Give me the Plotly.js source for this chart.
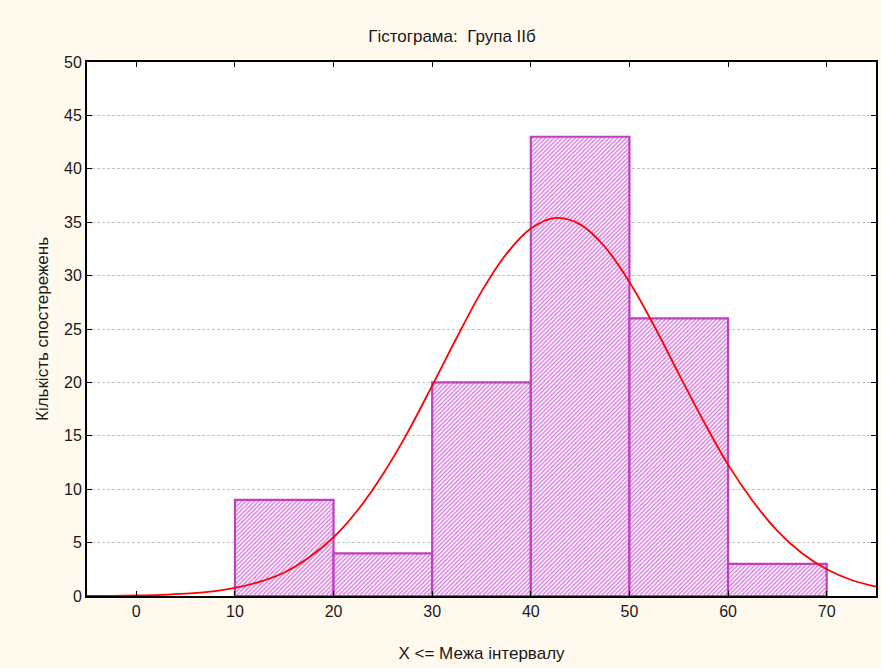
<!DOCTYPE html>
<html>
<head>
<meta charset="utf-8">
<script src="https://cdn.plot.ly/plotly-3.0.1.min.js"></script>
<style>html,body{margin:0;padding:0;background:#FFF9EE;}#chart{width:881px;height:668px;}</style>
</head>
<body>
<div id="chart"></div>
<script>
// Histogram bins (upper bounds of intervals) and counts
const binCenters = [15, 25, 35, 45, 55, 65];
const binWidths = [10, 10, 10, 10, 10, 10];
const counts = [9, 4, 20, 43, 26, 3];

// Expected normal curve
const curveX = [-5, -2.5, 0, 2.5, 5, 7.5, 10, 12.5, 15, 17.5, 20, 22.5, 25, 27.5, 30, 32.5, 35, 37.5, 40, 42.5, 45, 47.5, 50, 52.5, 55, 57.5, 60, 62.5, 65, 67.5, 70, 72.5, 75];
const curveY = [0.01, 0.02, 0.05, 0.11, 0.22, 0.41, 0.76, 1.33, 2.2, 3.6, 5.5, 8.1, 11.4, 15.3, 19.7, 24.2, 28.5, 32.0, 34.4, 35.4, 34.8, 32.7, 29.4, 25.3, 20.8, 16.4, 12.3, 8.9, 6.1, 4.0, 2.5, 1.5, 0.87];

const xTicks = [0, 10, 20, 30, 40, 50, 60, 70];
const yTicks = [0, 5, 10, 15, 20, 25, 30, 35, 40, 45, 50];

const traces = [
  {
    type: 'bar',
    x: binCenters,
    y: counts,
    width: binWidths,
    marker: {
      color: '#ffffff',
      line: {color: '#C040C0', width: 2.2},
      pattern: {shape: '/', fgcolor: '#DA80E0', bgcolor: '#FFFFFF', size: 3, solidity: 0.5}
    },
    hoverinfo: 'x+y'
  },
  {
    type: 'scatter',
    mode: 'lines',
    x: curveX,
    y: curveY,
    line: {color: '#FF0000', width: 1.8, shape: 'spline', smoothing: 1},
    hoverinfo: 'skip'
  }
];

const fontFam = 'Liberation Sans, Arial, sans-serif';
const txtColor = '#1a1a1a';
const layout = {
  width: 881,
  height: 668,
  paper_bgcolor: '#FFF9EE',
  plot_bgcolor: '#ffffff',
  showlegend: false,
  bargap: 0,
  margin: {l: 87, r: 5, t: 62, b: 72},
  font: {family: fontFam, size: 16, color: txtColor},
  title: {
    text: 'Гістограма:  Група ІІб',
    font: {family: fontFam, size: 17, color: txtColor},
    x: 452 / 881,
    xanchor: 'center',
    xref: 'container',
    y: 1 - 36 / 668,
    yanchor: 'middle',
    yref: 'container'
  },
  xaxis: {
    range: [-5, 75],
    tickvals: xTicks,
    ticktext: xTicks.map(String),
    ticks: 'inside',
    ticklen: 5,
    tickcolor: '#000000',
    showgrid: false,
    zeroline: false,
    showline: true,
    linecolor: '#000000',
    linewidth: 2,
    mirror: 'ticks',
    tickfont: {family: fontFam, size: 16, color: txtColor},
    title: {text: 'X &lt;= Межа інтервалу', font: {family: fontFam, size: 17, color: txtColor}, standoff: 28}
  },
  yaxis: {
    range: [0, 50],
    tickvals: yTicks,
    ticktext: yTicks.map(String),
    ticks: 'inside',
    ticklen: 5,
    tickcolor: '#000000',
    showgrid: true,
    gridcolor: '#C4C4C4',
    griddash: '3px,2px',
    gridwidth: 1,
    zeroline: false,
    showline: true,
    linecolor: '#000000',
    linewidth: 2,
    mirror: 'ticks',
    tickfont: {family: fontFam, size: 16, color: txtColor},
    title: {text: 'Кількість спостережень', font: {family: fontFam, size: 17, color: txtColor}, standoff: 11}
  }
};

Plotly.newPlot('chart', traces, layout, {displayModeBar: false, staticPlot: true});
</script>
</body>
</html>
